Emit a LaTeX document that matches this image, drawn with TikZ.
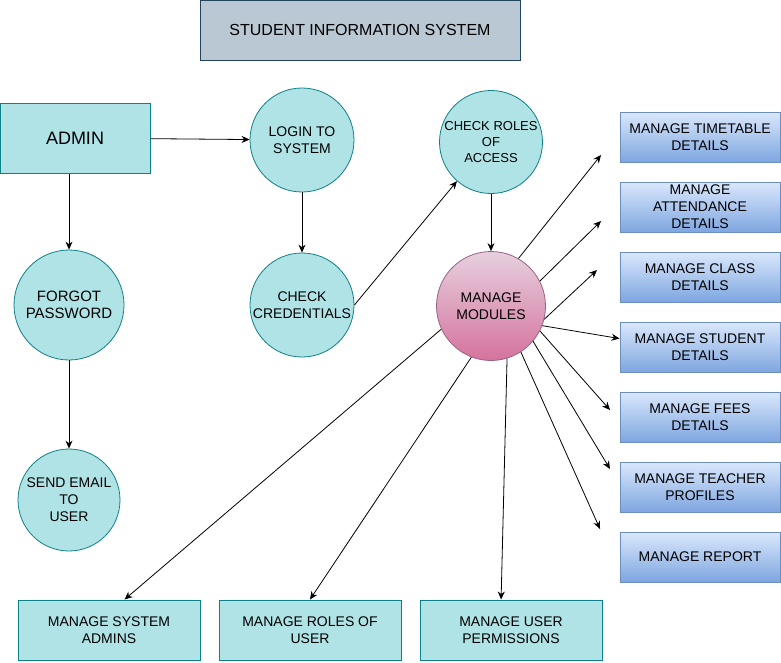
\documentclass[tikz,border=0pt]{standalone}
\usepackage{fontspec}
\setmainfont{Liberation Sans}
\usepackage{xcolor}
\usetikzlibrary{arrows.meta, positioning, shapes.geometric}

\definecolor{tealfill}{HTML}{B0E3E6}
\definecolor{tealline}{HTML}{0E8088}
\definecolor{greyfill}{HTML}{BAC8D3}
\definecolor{greyline}{HTML}{23445D}
\definecolor{bluetop}{HTML}{DAE8FC}
\definecolor{bluebot}{HTML}{7EA6E0}
\definecolor{blueline}{HTML}{6C8EBF}
\definecolor{pinktop}{HTML}{E6D0DE}
\definecolor{pinkbot}{HTML}{D5739D}
\definecolor{pinkline}{HTML}{996185}

\begin{document}
\begin{tikzpicture}[
  x = 1pt, y = -1pt,
  node distance = 19pt and 18pt,
  every node/.style = {font=\fontsize{14}{17}\selectfont, align=center, inner sep=0pt},
  titlebox/.style = {rectangle, draw=greyline, fill=greyfill, line width=1pt,
                     minimum width=320pt, minimum height=60pt, font=\fontsize{16}{19}\selectfont},
  tealbox/.style = {rectangle, draw=tealline, fill=tealfill, line width=1pt},
  proc/.style = {circle, draw=tealline, fill=tealfill, line width=0.8pt},
  modproc/.style = {circle, draw=pinkline, top color=pinktop, bottom color=pinkbot, line width=0.8pt},
  modbox/.style = {rectangle, draw=blueline, top color=bluetop, bottom color=bluebot, line width=1pt,
                   minimum width=160pt, minimum height=50pt},
  outbox/.style = {tealbox, minimum width=182pt, minimum height=60pt},
  arr/.style = {-{Stealth[length=8pt, width=7pt]}, line width=0.8pt}
]
  \useasboundingbox (0,0) rectangle (781,662);

  \node[titlebox] (sis) at (360,30) {STUDENT INFORMATION SYSTEM};

  \node[tealbox, minimum width=150pt, minimum height=70pt, font=\fontsize{18}{21}\selectfont] (admin) at (75,138) {ADMIN};
  \node[proc, minimum size=104pt] (login)  at (302,140) {LOGIN TO\\SYSTEM};
  \node[proc, minimum size=104pt] (cred)   at (302,305) {CHECK\\CREDENTIALS};
  \node[proc, minimum size=103pt, font=\fontsize{13}{16}\selectfont] (roles) at (491,142) {CHECK ROLES\\OF\\ACCESS};
  \node[modproc, minimum size=109pt] (mod) at (491,306) {MANAGE\\MODULES};
  \node[proc, minimum size=110pt, font=\fontsize{15}{17}\selectfont] (forgot) at (69,305) {FORGOT\\PASSWORD};
  \node[proc, minimum size=102pt] (email)  at (69,500) {SEND EMAIL\\TO\\USER};

  \node[modbox] (tt) at (700,137) {MANAGE TIMETABLE\\DETAILS};
  \node[modbox, below=of tt]  (att)  {MANAGE\\ATTENDANCE\\DETAILS};
  \node[modbox, below=of att] (cls)  {MANAGE CLASS\\DETAILS};
  \node[modbox, below=of cls] (stud) {MANAGE STUDENT\\DETAILS};
  \node[modbox, below=of stud] (fee) {MANAGE FEES\\DETAILS};
  \node[modbox, below=of fee] (tch)  {MANAGE TEACHER\\PROFILES};
  \node[modbox, below=of tch] (rep)  {MANAGE REPORT};

  \node[outbox] (sysadm) at (109,630) {MANAGE SYSTEM\\ADMINS};
  \node[outbox, right=of sysadm] (rolesu) {MANAGE ROLES OF\\USER};
  \node[outbox, right=of rolesu] (perm)   {MANAGE USER\\PERMISSIONS};

  \coordinate (ttend)  at (601,155);
  \coordinate (attend) at (601,221);
  \coordinate (clsend) at (597,270);
  \coordinate (feeend) at (610,410);
  \coordinate (tchend) at (610,469);
  \coordinate (repend) at (600,529);

  \draw[arr] (admin) -- (login);
  \draw[arr] (admin.south -| forgot.north) -- (forgot.north);
  \draw[arr] (forgot) -- (email);
  \draw[arr] (login) -- (cred);
  \draw[arr] (cred.east) -- (roles.229);
  \draw[arr] (roles) -- (mod);

  \draw[arr] (mod.60)  -- (ttend);
  \draw[arr] (mod.27)  -- (attend);
  \draw[arr] (mod.-14) -- (clsend);
  \draw[arr] (mod.-21) -- (stud.174);
  \draw[arr] (mod.-27) -- (feeend);
  \draw[arr] (mod.-40) -- (tchend);
  \draw[arr] (mod.-57) -- (repend);

  \draw[arr] (mod.205) -- (sysadm.63);
  \draw[arr] (mod.249) -- (rolesu.north);
  \draw[arr] (mod.-73) -- (perm.108);
\end{tikzpicture}
\end{document}
